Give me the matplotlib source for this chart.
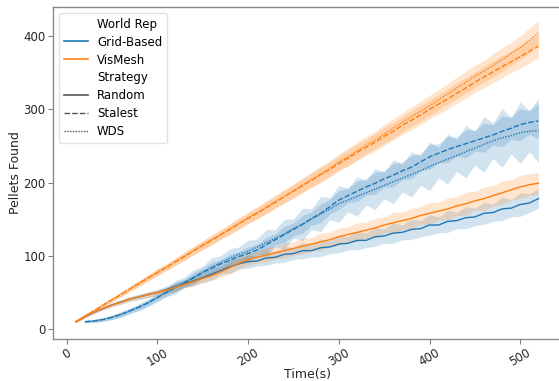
import matplotlib
matplotlib.use("Agg")
import matplotlib.pyplot as plt
from matplotlib.lines import Line2D
import numpy as np

# ---------------- data ----------------
time_vis = list(range(10, 530, 10))          # 52 points
time_grid_rand = list(range(10, 530, 10))    # 52 points
time_grid = list(range(20, 530, 10))         # 51 points

vis_random = [10, 17, 23, 28, 33, 37, 41, 44, 47, 50,
              53, 57, 61, 65, 69, 73, 78, 84, 90, 95,
              98, 101, 104, 107, 110, 113, 116, 119, 122, 126,
              129, 132, 135, 138, 142, 145, 148, 151, 155, 158,
              161, 164, 168, 171, 175, 178, 182, 186, 190, 194, 197, 199]
vis_random_ci = [1, 1, 2, 2, 2, 3, 3, 3, 4, 4,
                 4, 5, 5, 6, 6, 7, 7, 8, 8, 8,
                 8, 10, 8, 11, 9, 11, 9, 12, 10, 12,
                 10, 13, 11, 13, 11, 14, 12, 14, 12, 15,
                 12, 15, 13, 16, 13, 16, 14, 16, 14, 16, 15, 15]

vis_stalest = [10, 17, 25, 32, 40, 47, 55, 62, 70, 77,
               84, 92, 99, 107, 114, 121, 129, 136, 144, 151,
               158, 166, 173, 181, 188, 196, 203, 211, 218, 226,
               233, 241, 248, 255, 263, 270, 278, 285, 292, 300,
               307, 314, 322, 329, 337, 344, 351, 358, 365, 372, 379, 386]
vis_stalest_ci = [1, 2, 2, 2, 3, 3, 3, 4, 4, 4,
                  4, 5, 5, 5, 6, 6, 6, 7, 7, 7,
                  8, 8, 8, 9, 9, 9, 10, 10, 10, 10,
                  11, 11, 11, 12, 12, 12, 12, 13, 13, 13,
                  13, 14, 14, 14, 14, 15, 15, 15, 15, 16, 16, 16]

vis_wds = [10, 18, 25, 33, 40, 48, 55, 63, 70, 78,
           85, 92, 100, 107, 115, 122, 129, 137, 144, 152,
           159, 166, 174, 181, 189, 196, 204, 211, 219, 228,
           235, 243, 251, 258, 266, 274, 282, 290, 297, 305,
           313, 321, 329, 337, 345, 352, 360, 368, 376, 384, 394, 404]
vis_wds_ci = [1, 2, 2, 3, 3, 3, 4, 4, 4, 5,
              5, 5, 6, 6, 6, 7, 7, 7, 8, 8,
              8, 9, 9, 9, 10, 10, 10, 11, 11, 11,
              12, 12, 12, 12, 13, 13, 13, 13, 14, 14,
              14, 14, 15, 15, 15, 15, 16, 16, 16, 16, 17, 17]

grid_random = [10, 17, 23, 28, 33, 37, 41, 44, 47, 50,
               54, 58, 62, 66, 70, 75, 80, 85, 89, 92,
               93, 97, 98, 102, 103, 107, 107, 111, 112, 116,
               117, 121, 121, 126, 127, 131, 132, 136, 137, 142,
               142, 147, 148, 152, 153, 158, 159, 164, 165, 170, 172, 178]
grid_random_ci = [1, 2, 2, 2, 3, 3, 3, 4, 4, 4,
                  5, 6, 5, 7, 6, 8, 6, 9, 7, 9,
                  7, 10, 8, 11, 8, 11, 9, 12, 9, 12,
                  9, 13, 10, 13, 10, 14, 10, 14, 11, 14,
                  11, 15, 11, 15, 12, 15, 12, 16, 12, 16, 13, 13]

grid_stalest = [10, 11, 13, 16, 20, 25, 30, 36, 43,
                50, 57, 63, 70, 77, 83, 89, 94, 99, 103,
                108, 115, 122, 129, 136, 143, 151, 158, 167, 176,
                182, 188, 194, 199, 205, 210, 216, 221, 228, 235,
                240, 245, 249, 253, 257, 261, 265, 270, 274, 279, 282, 284]
grid_stalest_ci = [1, 2, 2, 3, 3, 3, 4, 4, 4,
                   5, 6, 5, 7, 6, 8, 6, 8, 7, 9,
                   8, 10, 8, 11, 9, 12, 9, 13, 10, 13,
                   10, 14, 11, 15, 11, 16, 12, 16, 12, 17,
                   13, 18, 13, 19, 14, 20, 14, 21, 15, 22, 16, 24]

grid_wds = [10, 11, 13, 16, 20, 25, 30, 36, 43,
            50, 57, 64, 71, 78, 85, 91, 97, 102, 106,
            112, 118, 124, 130, 137, 143, 150, 157, 164, 171,
            176, 181, 186, 191, 196, 201, 206, 211, 216, 222,
            227, 232, 237, 242, 247, 252, 257, 261, 264, 268, 270, 271]
grid_wds_ci = [2, 2, 3, 3, 4, 4, 5, 5, 6,
               6, 9, 7, 10, 8, 12, 9, 13, 10, 15,
               11, 18, 12, 20, 13, 22, 14, 24, 15, 25,
               16, 27, 17, 28, 18, 30, 19, 31, 20, 33,
               21, 34, 22, 36, 23, 38, 24, 40, 25, 42, 28, 44]

hue_labels = ["Grid-Based", "VisMesh"]
style_labels = ["Random", "Stalest", "WDS"]
xticks = [0, 100, 200, 300, 400, 500]
yticks = [0, 100, 200, 300, 400]

# ---------------- styling ----------------
plt.rcParams['font.family'] = ['DejaVu Sans']
FS = 8.5
FS_LABEL = 9.0
BLUE = '#1f77b4'
ORANGE = '#ff7f0e'
TXT = '#262626'
dashes = {"Random": None, "Stalest": (4, 1.5), "WDS": (1, 1)}

fig = plt.figure(figsize=(5.59, 3.81), dpi=100)
W, H = 559, 381
left, right, top, bottom = 53.3, 561.5, 7.0, 339.0
ax = fig.add_axes([left / W, 1 - bottom / H, (right - left) / W, (bottom - top) / H])

series = [
    (time_grid_rand, grid_random, grid_random_ci, BLUE, "Random"),
    (time_grid, grid_stalest, grid_stalest_ci, BLUE, "Stalest"),
    (time_grid, grid_wds, grid_wds_ci, BLUE, "WDS"),
    (time_vis, vis_random, vis_random_ci, ORANGE, "Random"),
    (time_vis, vis_stalest, vis_stalest_ci, ORANGE, "Stalest"),
    (time_vis, vis_wds, vis_wds_ci, ORANGE, "WDS"),
]
for t, m, ci, c, st in series:
    t = np.asarray(t); m = np.asarray(m, float); ci = np.asarray(ci, float)
    ax.fill_between(t, m - ci, m + ci, color=c, alpha=0.2, linewidth=0)
    line, = ax.plot(t, m, color=c, lw=1.0)
    if dashes[st] is not None:
        line.set_dashes(dashes[st])

ax.set_xlim(-14.8, 545.5)
ax.set_ylim(-13.6, 439.6)
ax.set_xticks(xticks)
ax.set_yticks(yticks)
ax.set_xticklabels([str(v) for v in xticks], rotation=30, fontsize=FS)
ax.set_yticklabels([str(v) for v in yticks], fontsize=FS)
ax.tick_params(axis='both', colors='#808080', length=3.5, width=0.8,
               labelcolor=TXT, pad=2)
for sp in ax.spines.values():
    sp.set_color('#8a8a8a')
    sp.set_linewidth(1.0)
ax.set_xlabel("Time(s)", fontsize=FS_LABEL, color=TXT, labelpad=-1)
ax.set_ylabel("Pellets Found", fontsize=FS_LABEL, color=TXT, labelpad=1)

# legend
blank = Line2D([], [], color='none')
handles = [blank,
           Line2D([], [], color=BLUE, lw=1.2),
           Line2D([], [], color=ORANGE, lw=1.2),
           blank,
           Line2D([], [], color='#555555', lw=1.2),
           Line2D([], [], color='#555555', lw=1.0, dashes=(4, 1.5)),
           Line2D([], [], color='#555555', lw=1.0, dashes=(1, 1))]
labels = ["World Rep"] + hue_labels + ["Strategy"] + style_labels
leg = ax.legend(handles, labels, loc='upper left', fontsize=FS, frameon=True,
                borderaxespad=0.5, handlelength=2.0, labelspacing=0.42)
leg.get_frame().set_edgecolor('#dddddd')

fig.savefig("out.png", dpi=100)
